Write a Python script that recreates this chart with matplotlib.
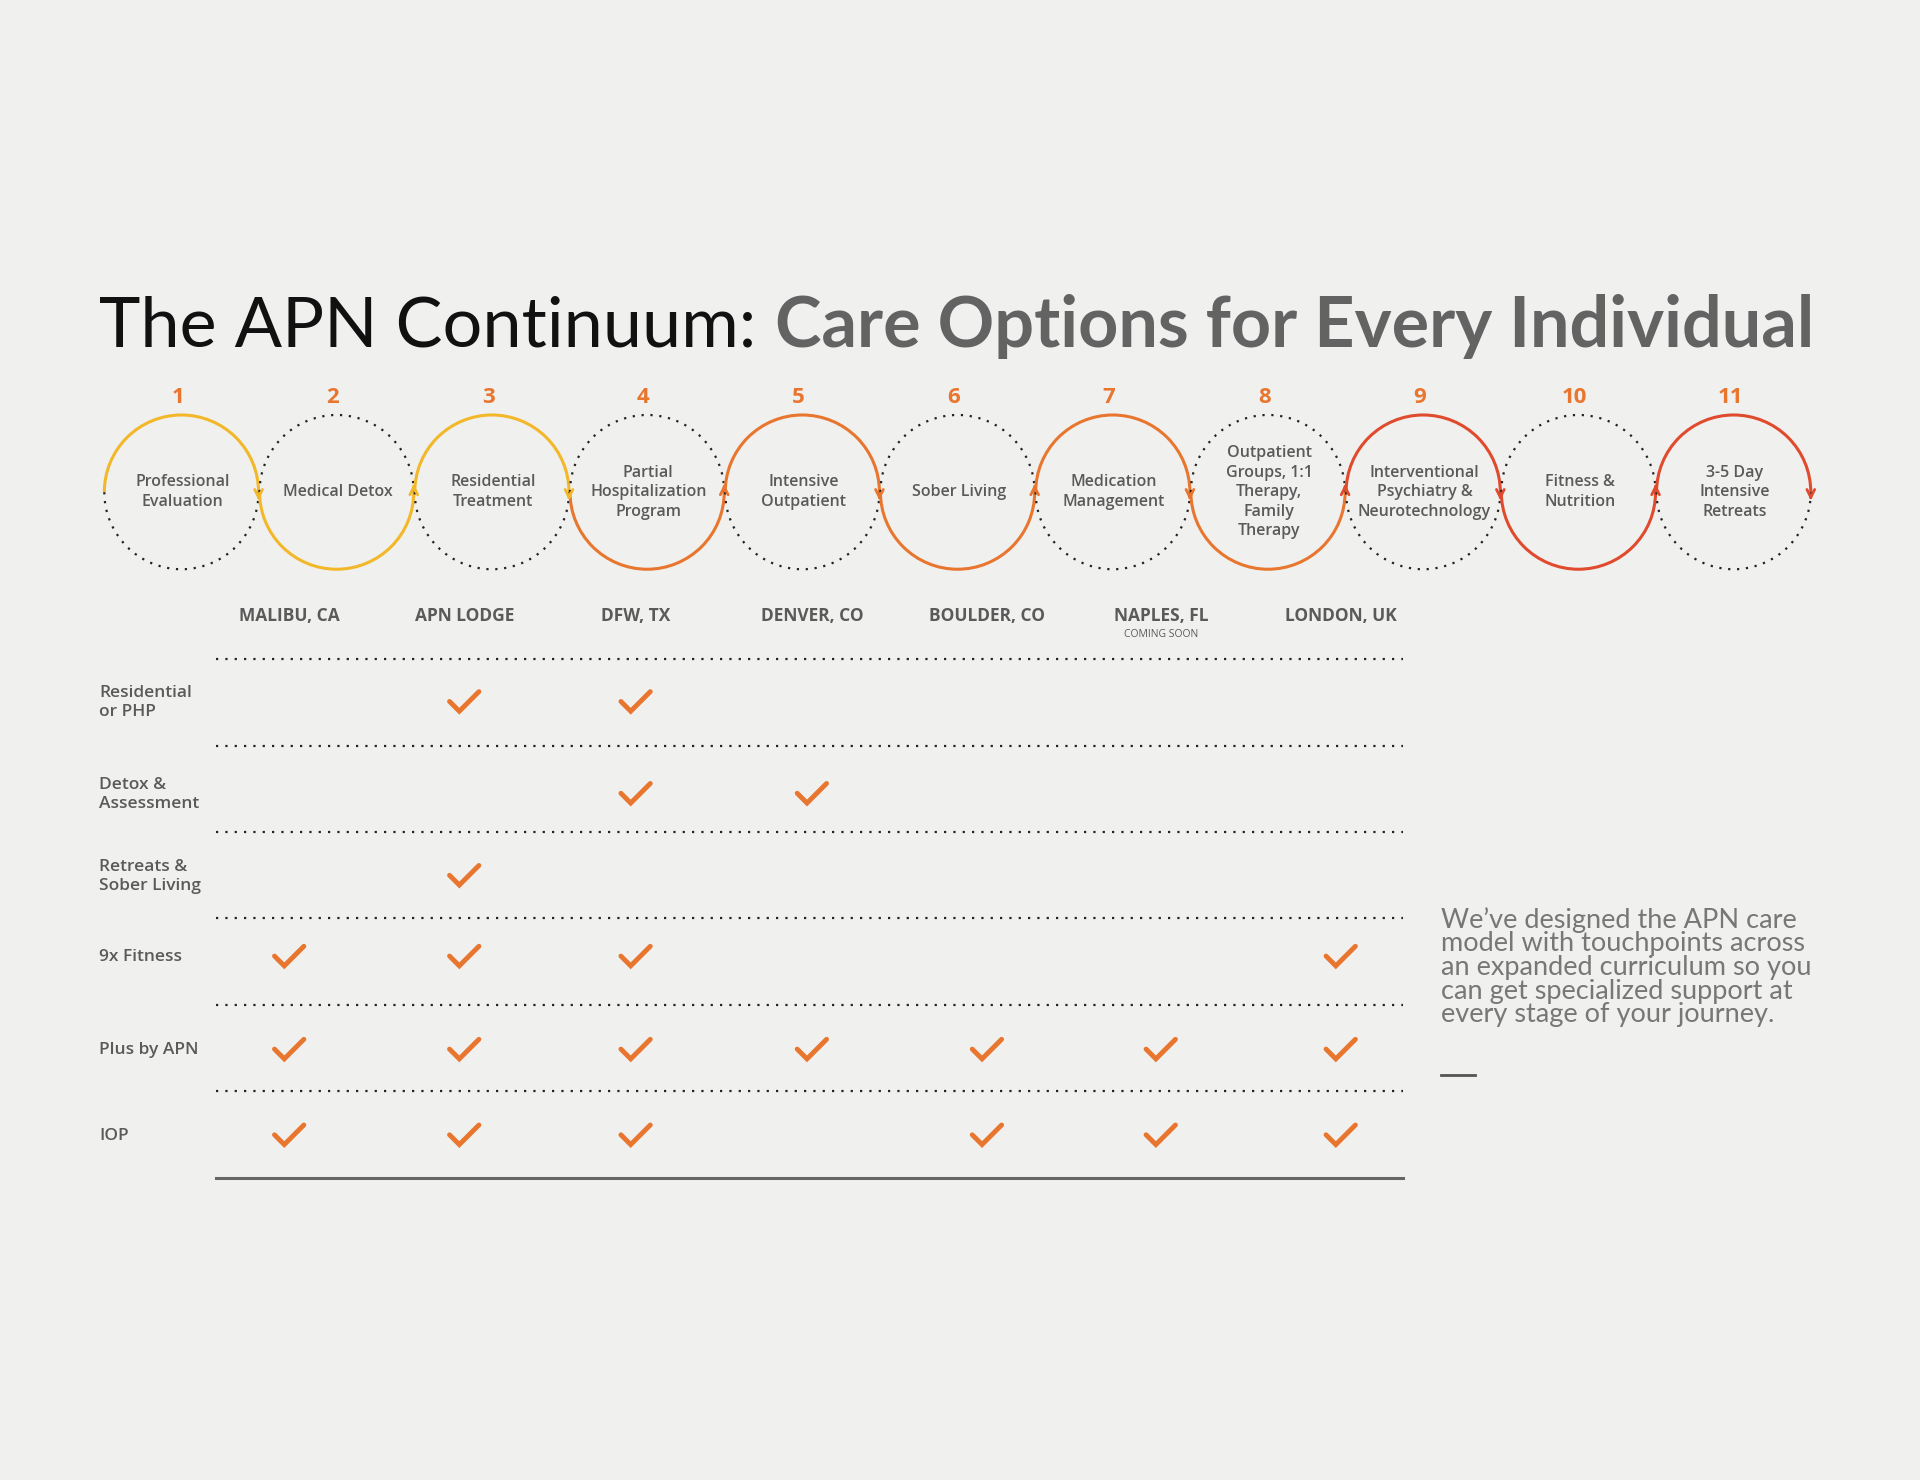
import matplotlib
matplotlib.use("Agg")
import matplotlib.pyplot as plt
import numpy as np
from matplotlib.patches import Arc

steps = ["Professional\nEvaluation", "Medical Detox", "Residential\nTreatment",
         "Partial\nHospitalization\nProgram", "Intensive\nOutpatient", "Sober Living",
         "Medication\nManagement", "Outpatient\nGroups, 1:1\nTherapy,\nFamily\nTherapy",
         "Interventional\nPsychiatry &\nNeurotechnology", "Fitness &\nNutrition",
         "3-5 Day\nIntensive\nRetreats"]
step_colors = ["#F2B829"] * 3 + ["#E8762F"] * 5 + ["#E04B2E"] * 3
locations = ["MALIBU, CA", "APN LODGE", "DFW, TX", "DENVER, CO", "BOULDER, CO", "NAPLES, FL", "LONDON, UK"]
programs = ["Residential\nor PHP", "Detox &\nAssessment", "Retreats &\nSober Living",
            "9x Fitness", "Plus by APN", "IOP"]
checks = [
    [0, 1, 1, 0, 0, 0, 0],
    [0, 0, 1, 1, 0, 0, 0],
    [0, 1, 0, 0, 0, 0, 0],
    [1, 1, 1, 0, 0, 0, 1],
    [1, 1, 1, 1, 1, 1, 1],
    [1, 1, 1, 0, 1, 1, 1],
]

BG = "#F0F0EF"
ORANGE = "#E8762F"
TXT = "#5A5A5A"
fig = plt.figure(figsize=(19.2, 14.8), dpi=100, facecolor=BG)
ax = fig.add_axes([0, 0, 1, 1])
ax.set_xlim(0, 1568)
ax.set_ylim(1209, 0)
ax.set_aspect("equal")
ax.axis("off")
ax.set_facecolor(BG)

fam = "Open Sans"
TS = 50.5
ax.text(81, 267, "The APN Continuum: ", fontsize=TS, family="Lato", color="#111111", va="center")
t = ax.text(81, 267, "The APN Continuum: ", fontsize=TS, family="Lato", color="none", va="center")
fig.canvas.draw()
bb = t.get_window_extent()
inv = ax.transData.inverted()
x1 = inv.transform((bb.x1, bb.y0))[0]
ax.text(x1, 267, "Care Options for Every Individual", fontsize=TS, family="Lato",
        fontweight="bold", color="#636363", va="center")

r = 63
cy = 402
x0, dx = 148, 126.8
for i, (lab, c) in enumerate(zip(steps, step_colors)):
    cx = x0 + i * dx
    upper = (i % 2 == 0)
    if upper:
        ax.add_patch(Arc((cx, cy), 2 * r, 2 * r, theta1=180, theta2=360, color=c, lw=2.2))
        ax.add_patch(Arc((cx, cy), 2 * r, 2 * r, theta1=0, theta2=180, color="#222222", lw=1.6, ls=(0, (1, 3))))
        ax.annotate("", xy=(cx + r, cy + 9), xytext=(cx + r, cy + 1),
                    arrowprops=dict(arrowstyle="->", color=c, lw=2, mutation_scale=14))
    else:
        ax.add_patch(Arc((cx, cy), 2 * r, 2 * r, theta1=0, theta2=180, color=c, lw=2.2))
        ax.add_patch(Arc((cx, cy), 2 * r, 2 * r, theta1=180, theta2=360, color="#222222", lw=1.6, ls=(0, (1, 3))))
        ax.annotate("", xy=(cx + r, cy - 9), xytext=(cx + r, cy - 1),
                    arrowprops=dict(arrowstyle="->", color=step_colors[min(i + 1, 10)], lw=2, mutation_scale=14))
    ax.text(cx - 3, 325, str(i + 1), fontsize=16, fontweight="bold", color=ORANGE, ha="center", va="center", family=fam)
    ax.text(cx + 1, cy, lab, fontsize=11.5, fontweight="semibold", color=TXT, ha="center", va="center",
            family=fam, linespacing=1.3)

colx = [236, 379, 519, 663, 806, 948, 1095]
for x, l in zip(colx, locations):
    ax.text(x, 503, l, fontsize=12.5, fontweight="bold", color=TXT, ha="center", va="center", family=fam)
ax.text(948, 518, "COMING SOON", fontsize=7.5, color=TXT, ha="center", va="center", family=fam)

rowy = [574, 649, 716, 782, 858, 928]
liney = [538, 609, 680, 750, 821, 891]
for y in liney:
    ax.plot([176, 1146], [y, y], color="#222222", lw=1.6, ls=(0, (1, 3.2)))
ax.plot([176, 1146], [962, 962], color="#666666", lw=2.2)

chk = np.array([[-12, -1], [-4, 7], [12, -9]])
for j, (y, p) in enumerate(zip(rowy, programs)):
    ax.text(81, y, p, fontsize=12.5, fontweight="semibold", color=TXT, ha="left", va="center",
            family=fam, linespacing=1.2)
    for k, v in enumerate(checks[j]):
        if v:
            ax.plot(colx[k] + chk[:, 0], y + chk[:, 1], color=ORANGE, lw=3.5,
                    solid_capstyle="round", solid_joinstyle="miter")

ax.text(1177, 741, "We’ve designed the APN care\nmodel with touchpoints across\nan expanded curriculum so you\ncan get specialized support at\nevery stage of your journey.",
        fontsize=19.5, color="#777777", ha="left", va="top", family="Lato", linespacing=0.93)
ax.plot([1177, 1205], [878, 878], color="#555555", lw=2)

fig.savefig("out.png", dpi=100, facecolor=BG)
